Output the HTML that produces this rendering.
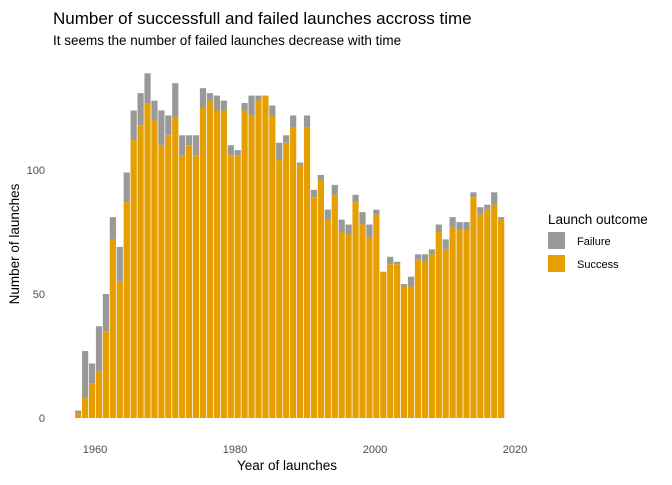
<!DOCTYPE html>
<html><head><meta charset="utf-8"><style>
body{margin:0;background:#fff;font-family:"Liberation Sans",sans-serif;}
svg text{font-family:"Liberation Sans",sans-serif;}
</style></head><body>
<svg id="chart" width="672" height="480">
<text x="53" y="24" font-size="17" fill="#000">Number of successfull and failed launches accross time</text>
<text x="53" y="45" font-size="13.5" fill="#000">It seems the number of failed launches decrease with time</text>
<g id="yticks"></g><g id="xticks"></g><g id="bars"></g>
<text transform="translate(19,244) rotate(-90)" text-anchor="middle" font-size="13.5" fill="#000">Number of launches</text>
<text x="287" y="470" text-anchor="middle" font-size="13.5" fill="#000">Year of launches</text>
<text x="548" y="224" font-size="13.5" fill="#000">Launch outcome</text>
<rect x="548" y="232" width="17" height="17" fill="#999999"/>
<text x="577" y="245" font-size="11" fill="#000">Failure</text>
<rect x="548" y="255" width="17" height="17" fill="#E69F00"/>
<text x="577" y="268" font-size="11" fill="#000">Success</text>
</svg>
<script>
const years=[1957,1958,1959,1960,1961,1962,1963,1964,1965,1966,1967,1968,1969,1970,1971,1972,1973,1974,1975,1976,1977,1978,1979,1980,1981,1982,1983,1984,1985,1986,1987,1988,1989,1990,1991,1992,1993,1994,1995,1996,1997,1998,1999,2000,2001,2002,2003,2004,2005,2006,2007,2008,2009,2010,2011,2012,2013,2014,2015,2016,2017,2018];
const success=[2,8,14,19,35,72,55,87,112,118,127,120,110,114,121,106,110,106,125,128,124,124,106,106,124,122,128,130,122,104,111,117,102,117,89,96,80,90,75,74,87,78,73,82,59,62,62,53,53,64,63,66,75,68,77,76,76,89,82,84,86,80];
const totals=[3,27,22,37,50,81,69,99,124,131,139,128,124,122,135,114,114,114,133,131,130,128,110,108,127,130,130,130,126,111,114,122,103,122,92,98,84,94,80,78,90,83,78,84,59,65,63,54,57,66,66,68,78,72,81,79,79,91,85,86,91,81];
const yTicks=[0,50,100];
const xTicks=[1960,1980,2000,2020];
const NS="http://www.w3.org/2000/svg";
const xs=y=>99+(y-1960)*6.934;
const xt_=y=>95+(y-1960)*7.0;
const ys=v=>418-v*2.48;
const bw=6.2;
const bars=document.getElementById('bars');
function mk(tag,attrs,parent){const e=document.createElementNS(NS,tag);for(const k in attrs)e.setAttribute(k,attrs[k]);parent.appendChild(e);return e;}
years.forEach((yr,i)=>{
  const x=xs(yr)-bw/2;
  const f=mk('rect',{x:x,y:ys(totals[i]),width:bw,height:ys(success[i])-ys(totals[i]),fill:'#999999'},bars);
  
  
  const s=mk('rect',{x:x,y:ys(success[i]),width:bw,height:ys(0)-ys(success[i]),fill:'#E69F00'},bars);
  
  
});
const yt=document.getElementById('yticks');
yTicks.forEach(v=>{
  const t=mk('text',{x:45,y:ys(v)+4,'text-anchor':'end','font-size':'11',fill:'#4d4d4d'},yt);
  t.textContent=v;
  
  
});
const xt=document.getElementById('xticks');
xTicks.forEach(v=>{
  const t=mk('text',{x:xt_(v),y:453,'text-anchor':'middle','font-size':'11',fill:'#4d4d4d'},xt);
  t.textContent=v;
  
  
});
</script>
</body></html>
